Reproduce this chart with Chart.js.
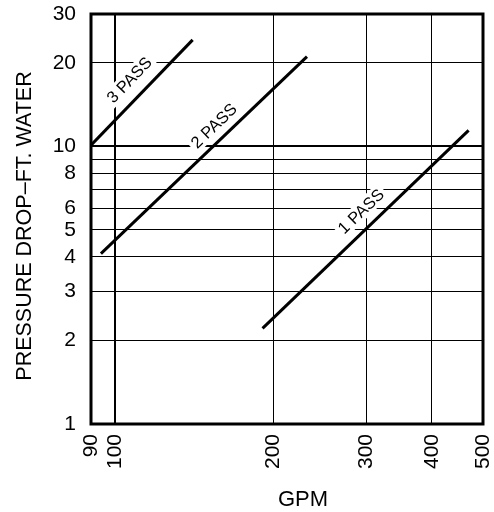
<!DOCTYPE html>
<html>
<head>
<meta charset="utf-8">
<script src="https://cdn.jsdelivr.net/npm/chart.js@4.4.1/dist/chart.umd.min.js"></script>
<style>
  html, body { margin: 0; padding: 0; background: #fff; }
  #wrap { width: 494px; height: 512px; }
</style>
</head>
<body>
<div id="wrap"><canvas id="c" width="494" height="512"></canvas></div>
<script>
// ---- data ----
const seriesNames = ['1 PASS', '2 PASS', '3 PASS'];
const pass1Gpm = [190.6, 469.5];
const pass1Drop = [2.21, 11.42];
const pass2Gpm = [94, 231.5];
const pass2Drop = [4.11, 21.05];
const pass3Gpm = [90, 140.4];
const pass3Drop = [10.1, 24.2];

// label anchor positions (data coordinates)
const labelGpm = [293, 154, 106.4];
const labelDrop = [5.84, 11.87, 17.37];

// tick values
const xTicks = [90, 100, 200, 300, 400, 500];
const yTicks = [1, 2, 3, 4, 5, 6, 7, 8, 9, 10, 20, 30];
const yTickLabels = ['1', '2', '3', '4', '5', '6', '', '8', '', '10', '20', '30'];

const xTitle = 'GPM';
const yTitle = 'PRESSURE DROP–FT. WATER';

const FONT = "'Liberation Sans', Arial, Helvetica, sans-serif";

function pts(xs, ys) { return xs.map((x, i) => ({ x: x, y: ys[i] })); }
const seriesData = [pts(pass1Gpm, pass1Drop), pts(pass2Gpm, pass2Drop), pts(pass3Gpm, pass3Drop)];

const frame = {
  id: 'frame',
  beforeDatasetsDraw(chart) {
    // series labels with white background, rotated along each line
    const { ctx, scales: { x, y } } = chart;
    ctx.save();
    ctx.font = '16.5px ' + FONT;
    seriesNames.forEach((name, i) => {
      const d = seriesData[i];
      const x0 = x.getPixelForValue(d[0].x), y0 = y.getPixelForValue(d[0].y);
      const x1 = x.getPixelForValue(d[1].x), y1 = y.getPixelForValue(d[1].y);
      const ang = Math.atan2(y1 - y0, x1 - x0);
      const px = x.getPixelForValue(labelGpm[i]);
      const py = y.getPixelForValue(labelDrop[i]);
      const w = ctx.measureText(name).width;
      ctx.save();
      ctx.translate(px, py);
      ctx.rotate(ang);
      ctx.fillStyle = '#fff';
      ctx.fillRect(-w / 2 - 3, -9, w + 6, 18);
      ctx.fillStyle = '#000';
      ctx.textAlign = 'center';
      ctx.textBaseline = 'middle';
      ctx.fillText(name, 0, 1);
      ctx.restore();
    });
    ctx.restore();
  },
  afterDraw(chart) {
    const { ctx, chartArea: a } = chart;
    ctx.save();
    ctx.strokeStyle = '#000';
    ctx.lineWidth = 3;
    ctx.strokeRect(a.left, a.top, a.right - a.left, a.bottom - a.top);
    // axis titles
    ctx.fillStyle = '#000';
    ctx.textAlign = 'center';
    ctx.textBaseline = 'middle';
    ctx.font = '22px ' + FONT;
    ctx.fillText(xTitle, (a.left + a.right) / 2 + 16, 500);
    ctx.translate(25, (a.top + a.bottom) / 2 + 7);
    ctx.rotate(-Math.PI / 2);
    ctx.font = '21.5px ' + FONT;
    ctx.fillText(yTitle, 0, 0);
    ctx.restore();
  }
};

new Chart(document.getElementById('c'), {
  type: 'line',
  data: {
    datasets: seriesNames.map((n, i) => ({
      label: n,
      data: seriesData[i],
      borderColor: '#000',
      borderWidth: 3,
      pointRadius: 0,
      fill: false,
      tension: 0
    }))
  },
  options: {
    responsive: false,
    animation: false,
    layout: { padding: { top: 14, right: 11, left: 0, bottom: 0 } },
    plugins: { legend: { display: false }, tooltip: { enabled: false } },
    scales: {
      x: {
        type: 'logarithmic',
        min: 90, max: 500,
        afterBuildTicks: s => { s.ticks = xTicks.map(v => ({ value: v })); },
        afterFit: s => { s.height = 88; s.paddingLeft = 0; s.paddingRight = 0; },
        border: { display: false },
        grid: {
          color: '#000',
          lineWidth: c => (c.tick && c.tick.value === 100 ? 2 : 1),
          drawTicks: false
        },
        ticks: {
          autoSkip: false,
          minRotation: 90, maxRotation: 90,
          padding: 10,
          color: '#000',
          font: { family: FONT, size: 21 },
          callback: v => String(v)
        },
        title: { display: false, text: xTitle }
      },
      y: {
        type: 'logarithmic',
        min: 1, max: 30,
        afterBuildTicks: s => { s.ticks = yTicks.map(v => ({ value: v })); },
        afterFit: s => { s.width = 91; s.paddingTop = 0; s.paddingBottom = 0; },
        border: { display: false },
        grid: {
          color: '#000',
          lineWidth: c => (c.tick && c.tick.value === 10 ? 2 : 1),
          drawTicks: false
        },
        ticks: {
          autoSkip: false,
          padding: 15,
          color: '#000',
          font: { family: FONT, size: 21 },
          callback: v => yTickLabels[yTicks.indexOf(v)] ?? ''
        },
        title: { display: false, text: yTitle }
      }
    }
  },
  plugins: [frame]
});
</script>
</body>
</html>
